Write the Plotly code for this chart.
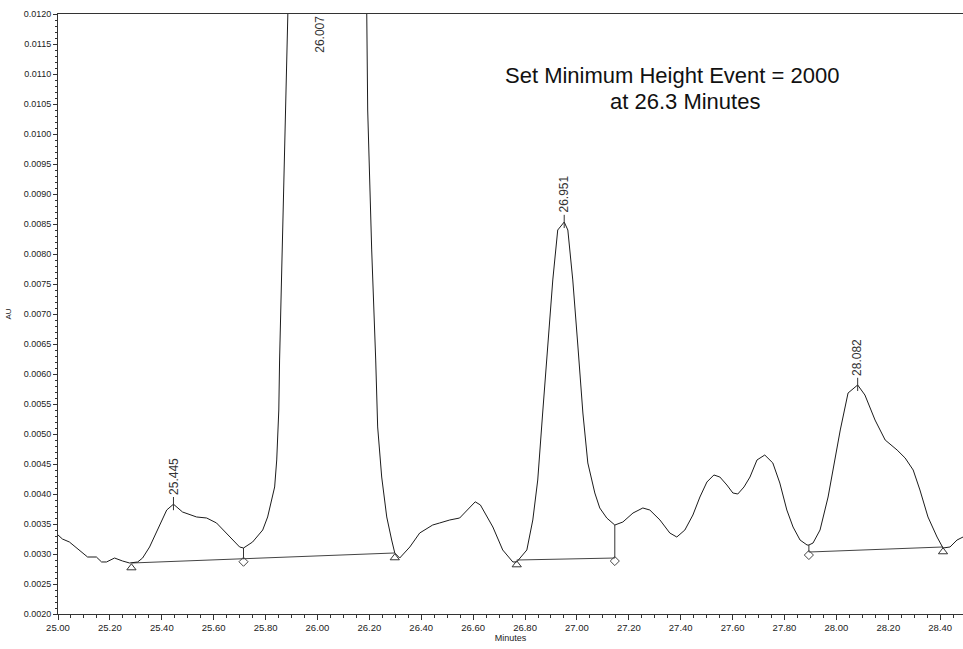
import numpy as np
import plotly.graph_objects as go

# Detector trace: retention time (min) and absorbance (AU)
time_min = [
    25.000, 25.017, 25.044, 25.083, 25.114, 25.148, 25.168, 25.187, 25.218, 25.249,
    25.276, 25.307, 25.326, 25.353, 25.384, 25.419, 25.445, 25.480, 25.534, 25.573,
    25.611, 25.661, 25.700, 25.715, 25.750, 25.789, 25.808, 25.835, 25.843, 25.851,
    25.854, 25.866, 25.877, 25.884, 25.900, 25.930, 26.007, 26.090, 26.160, 26.190,
    26.1936, 26.209, 26.2245, 26.232, 26.2476, 26.267, 26.286, 26.298, 26.317, 26.356,
    26.394, 26.444, 26.471, 26.510, 26.548, 26.580, 26.608, 26.628, 26.676, 26.714,
    26.753, 26.768, 26.807, 26.830, 26.849, 26.868, 26.888, 26.907, 26.926, 26.951,
    26.965, 26.984, 27.004, 27.023, 27.042, 27.069, 27.088, 27.115, 27.146, 27.177,
    27.216, 27.254, 27.281, 27.320, 27.358, 27.385, 27.416, 27.447, 27.474, 27.501,
    27.528, 27.551, 27.578, 27.601, 27.620, 27.644, 27.667, 27.694, 27.724, 27.755,
    27.782, 27.809, 27.833, 27.860, 27.887, 27.894, 27.910, 27.937, 27.968, 27.995,
    28.015, 28.045, 28.082, 28.110, 28.149, 28.188, 28.234, 28.265, 28.296, 28.322,
    28.353, 28.388, 28.411, 28.438, 28.465, 28.488,
]
absorb_au = [
    0.003317, 0.003250, 0.003200, 0.003067, 0.002950, 0.002950, 0.002867, 0.002867, 0.002933, 0.002883,
    0.002850, 0.002867, 0.002933, 0.003117, 0.003400, 0.003733, 0.003830, 0.003700, 0.003617, 0.003600,
    0.003517, 0.003283, 0.003117, 0.003100, 0.003200, 0.003400, 0.003617, 0.004117, 0.004567, 0.005400,
    0.006233, 0.008400, 0.010400, 0.012000, 0.015600, 0.020000, 0.025000, 0.021000, 0.015000, 0.012000,
    0.010400, 0.008067, 0.006233, 0.005117, 0.004283, 0.003617, 0.003233, 0.003017, 0.002933, 0.003117,
    0.003350, 0.003483, 0.003517, 0.003567, 0.003600, 0.003750, 0.003870, 0.003817, 0.003450, 0.003067,
    0.002867, 0.002867, 0.003067, 0.003567, 0.004233, 0.005350, 0.006450, 0.007567, 0.008400, 0.008533,
    0.008400, 0.007567, 0.006450, 0.005350, 0.004517, 0.004017, 0.003767, 0.003600, 0.003483, 0.003533,
    0.003683, 0.003767, 0.003733, 0.003567, 0.003350, 0.003283, 0.003400, 0.003650, 0.003950, 0.004200,
    0.004317, 0.004283, 0.004150, 0.004017, 0.004000, 0.004117, 0.004283, 0.004567, 0.004650, 0.004517,
    0.004183, 0.003733, 0.003450, 0.003233, 0.003150, 0.003150, 0.003183, 0.003400, 0.003950, 0.004617,
    0.005067, 0.005683, 0.005817, 0.005650, 0.005233, 0.004900, 0.004733, 0.004600, 0.004400, 0.004067,
    0.003617, 0.003283, 0.003100, 0.003117, 0.003233, 0.003283,
]

# Integrated peaks (apex retention times and their labels)
peak_times = [25.445, 26.007, 26.951, 28.082]
peak_labels = ["25.445", "26.007", "26.951", "28.082"]

# Integration baselines: start and end points
base_start_t = [25.283, 26.768, 27.894]
base_start_y = [0.002850, 0.002900, 0.003033]
base_end_t = [26.298, 27.146, 28.411]
base_end_y = [0.003017, 0.002933, 0.003117]

# Baseline event markers (triangle = baseline point, diamond = drop line)
triangle_t = [25.283, 26.298, 26.768, 28.411]
diamond_t = [25.715, 27.146, 27.894]

# Method note
note_lines = ["Set Minimum Height Event = 2000", "at 26.3 Minutes"]

Y_MIN, Y_MAX = 0.0020, 0.0120
X_MIN, X_MAX = 25.00, 28.488

INK = "#1c1c1c"
FONT = "Arial, Liberation Sans, sans-serif"


def baseline_at(t):
    for t0, y0, t1, y1 in zip(base_start_t, base_start_y, base_end_t, base_end_y):
        if t0 - 1e-9 <= t <= t1 + 1e-9:
            return y0 + (y1 - y0) * (t - t0) / (t1 - t0)
    return None


def signal_at(t):
    return float(np.interp(t, time_min, absorb_au))


fig = go.Figure()

# baselines
bx, by = [], []
for t0, y0, t1, y1 in zip(base_start_t, base_start_y, base_end_t, base_end_y):
    bx += [t0, t1, None]
    by += [y0, y1, None]
fig.add_trace(go.Scatter(x=bx, y=by, mode="lines",
                         line=dict(color="#444444", width=1), hoverinfo="skip"))

# drop lines from the signal down to the baseline
dx, dy = [], []
for t in diamond_t:
    dx += [t, t, None]
    dy += [signal_at(t), baseline_at(t), None]
fig.add_trace(go.Scatter(x=dx, y=dy, mode="lines",
                         line=dict(color="#333333", width=1), hoverinfo="skip"))

# signal
fig.add_trace(go.Scatter(x=time_min, y=absorb_au, mode="lines",
                         line=dict(color=INK, width=1), hoverinfo="skip"))

# apex tick marks
ax_, ay_ = [], []
for t in peak_times:
    h = signal_at(t)
    if h < Y_MAX:
        ax_ += [t, t, None]
        ay_ += [h + 0.00012, h - 0.0001, None]
fig.add_trace(go.Scatter(x=ax_, y=ay_, mode="lines",
                         line=dict(color="#333333", width=1), hoverinfo="skip"))

# event markers
fig.add_trace(go.Scatter(
    x=triangle_t, y=[baseline_at(t) - 0.00008 for t in triangle_t], mode="markers",
    marker=dict(symbol="triangle-up-open", size=8, color="#333333", line=dict(width=1)),
    hoverinfo="skip"))
fig.add_trace(go.Scatter(
    x=diamond_t, y=[baseline_at(t) - 0.00005 for t in diamond_t], mode="markers",
    marker=dict(symbol="diamond-open", size=7, color="#444444", line=dict(width=1)),
    hoverinfo="skip"))

# retention-time labels
for t, lab in zip(peak_times, peak_labels):
    h = signal_at(t)
    on_scale = h < Y_MAX
    fig.add_annotation(x=t, y=(h + 0.00012) if on_scale else Y_MAX, text=lab,
                       textangle=-90, showarrow=False, xanchor="center",
                       yanchor="bottom" if on_scale else "top",
                       font=dict(family=FONT, size=12, color="#333333"))

# method note, two lines
fig.add_annotation(x=(672 - 58) / 905, y=1 - (75 - 14) / 600, xref="x domain", yref="y domain",
                   text=note_lines[0], showarrow=False, xanchor="center", yanchor="middle",
                   font=dict(family=FONT, size=22, color="#111111"))
fig.add_annotation(x=(685 - 58) / 905, y=1 - (101 - 14) / 600, xref="x domain", yref="y domain",
                   text=note_lines[1], showarrow=False, xanchor="center", yanchor="middle",
                   font=dict(family=FONT, size=22, color="#111111"))

fig.update_layout(
    width=963, height=649,
    margin=dict(l=58, r=0, t=14, b=35),
    paper_bgcolor="white", plot_bgcolor="white",
    showlegend=False,
    font=dict(family=FONT, color="#222222"),
    xaxis=dict(
        range=[X_MIN, X_MAX], tick0=25.0, dtick=0.2, tickformat=".2f",
        ticks="outside", ticklen=5, tickcolor="#333333", tickwidth=1,
        minor=dict(dtick=0.05, ticks="outside", ticklen=3, tickcolor="#333333"),
        showline=True, linecolor="#333333", linewidth=1, mirror=True,
        showgrid=False, zeroline=False,
        tickfont=dict(size=9.5, family=FONT, color="#222222"),
        title=dict(text="Minutes", font=dict(size=9, family=FONT, color="#222222"), standoff=2),
    ),
    yaxis=dict(
        range=[Y_MIN, Y_MAX], tick0=0.002, dtick=0.0005, tickformat=".4f",
        ticks="outside", ticklen=4, tickcolor="#333333", tickwidth=1,
        minor=dict(dtick=0.0001, ticks="outside", ticklen=2, tickcolor="#333333"),
        showline=True, linecolor="#333333", linewidth=1, mirror=False,
        showgrid=False, zeroline=False,
        tickfont=dict(size=9, family=FONT, color="#222222"),
        title=dict(text="AU", font=dict(size=8, family=FONT, color="#222222"), standoff=10),
    ),
)

fig.write_html("out.html")
